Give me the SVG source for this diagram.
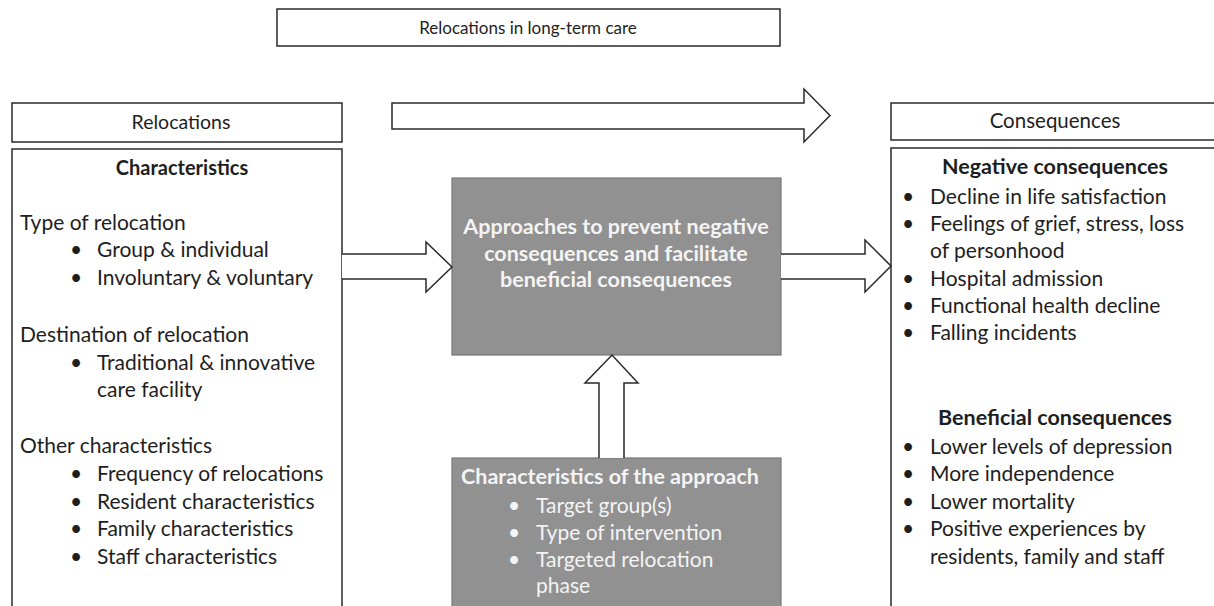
<svg xmlns="http://www.w3.org/2000/svg" width="1214" height="606" viewBox="0 0 1214 606">
<style>
text{font-family:Lato,"Liberation Sans",sans-serif;font-size:21px;fill:#1e1e1e}
.b{font-weight:bold;font-size:21.5px}
.c{text-anchor:middle}
.w{fill:#f4f4f4}
.h{font-size:19.5px}
.box{fill:#fff;stroke:#2a2a2a;stroke-width:1.5}
.gray{fill:#919191;stroke:#777;stroke-width:1.2}
.arr{fill:#fff;stroke:#2a2a2a;stroke-width:1.5;stroke-linejoin:miter}
</style>
<rect width="1214" height="606" fill="#fff"/>
<g id="title"><rect class="box" x="277" y="9" width="503" height="37"/><text class="c" x="528" y="34" style="font-size:17px">Relocations in long-term care</text></g>
<g id="relocations-header"><rect class="box" x="12" y="103" width="330" height="39"/><text class="c h" x="181" y="129">Relocations</text></g>
<g id="consequences-header"><rect class="box" x="891" y="103" width="330" height="37"/><text class="c h" x="1055" y="128" style="font-size:20.5px">Consequences</text></g>
<g id="relocations">
<rect class="box" x="12" y="149" width="330" height="470"/>
<text class="c b" x="182" y="175" style="font-size:20px">Characteristics</text>
<text x="20" y="230">Type of relocation</text>
<text x="70" y="257">•</text><text x="97" y="257">Group &amp; individual</text>
<text x="70" y="285">•</text><text x="97" y="285">Involuntary &amp; voluntary</text>
<text x="20" y="342">Destination of relocation</text>
<text x="70" y="370">•</text><text x="97" y="370">Traditional &amp; innovative</text>
<text x="97" y="397">care facility</text>
<text x="20" y="453">Other characteristics</text>
<text x="70" y="481">•</text><text x="97" y="481">Frequency of relocations</text>
<text x="70" y="509">•</text><text x="97" y="509">Resident characteristics</text>
<text x="70" y="536">•</text><text x="97" y="536">Family characteristics</text>
<text x="70" y="564">•</text><text x="97" y="564">Staff characteristics</text>
</g>
<g id="consequences">
<rect class="box" x="891" y="148" width="330" height="470"/>
<text class="c b" x="1055" y="174">Negative consequences</text>
<text x="902" y="204">•</text><text x="930" y="204">Decline in life satisfaction</text>
<text x="902" y="231">•</text><text x="930" y="231">Feelings of grief, stress, loss</text>
<text x="930" y="258">of personhood</text>
<text x="902" y="286">•</text><text x="930" y="286">Hospital admission</text>
<text x="902" y="313">•</text><text x="930" y="313">Functional health decline</text>
<text x="902" y="340">•</text><text x="930" y="340">Falling incidents</text>
<text class="c b" x="1055" y="425">Beneficial consequences</text>
<text x="902" y="454">•</text><text x="930" y="454">Lower levels of depression</text>
<text x="902" y="481">•</text><text x="930" y="481">More independence</text>
<text x="902" y="509">•</text><text x="930" y="509">Lower mortality</text>
<text x="902" y="536">•</text><text x="930" y="536">Positive experiences by</text>
<text x="930" y="564">residents, family and staff</text>
</g>
<g id="approaches">
<rect class="gray" x="452" y="178" width="329" height="177"/>
<text class="c b w" x="616" y="234">Approaches to prevent negative</text>
<text class="c b w" x="616" y="261">consequences and facilitate</text>
<text class="c b w" x="616" y="287">beneficial consequences</text>
</g>
<g id="approach-characteristics">
<rect class="gray" x="452" y="458" width="329" height="160"/>
<text class="c b w" x="610" y="484">Characteristics of the approach</text>
<text class="w" x="508" y="513">•</text><text class="w" x="536" y="513">Target group(s)</text>
<text class="w" x="508" y="540">•</text><text class="w" x="536" y="540">Type of intervention</text>
<text class="w" x="508" y="567">•</text><text class="w" x="536" y="567">Targeted relocation</text>
<text class="w" x="536" y="593">phase</text>
</g>
<g id="connectors">
<path class="arr" d="M392,103 H804 V89 L830,115.5 L804,142 V129 H392 Z"/>
<path class="arr" d="M342,254 H426 V242 L452,267 L426,292 V279 H342"/>
<path class="arr" d="M781,254 H865 V240 L891,266 L865,292 V279 H781"/>
<path class="arr" d="M599,458 V383 H585 L612,355 L638,383 H624 V458"/>
</g>
</svg>
